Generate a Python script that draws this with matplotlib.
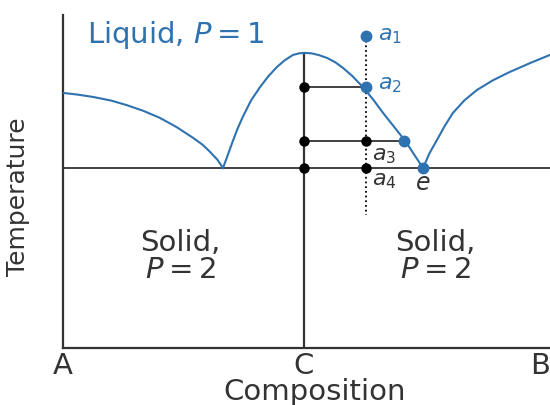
import numpy as np
import matplotlib
matplotlib.use('Agg')
import matplotlib.pyplot as plt
from matplotlib.transforms import ScaledTranslation

plt.rcParams['font.family'] = ['DejaVu Sans']
plt.rcParams['mathtext.fontset'] = 'dejavusans'

BLUE = '#2f72b0'
DARK = '#333333'

# liquidus branches (composition fraction of B, temperature in arbitrary units)
left_x = [0.0, 0.030, 0.062, 0.100, 0.133, 0.167, 0.201, 0.235, 0.270, 0.290, 0.305, 0.320, 0.332]
left_t = [76.6, 76.1, 75.4, 74.3, 72.9, 71.2, 69.1, 66.4, 63.1, 61.0, 58.9, 56.6, 54.05]

mid_x = [0.332, 0.342, 0.352, 0.362, 0.373, 0.390, 0.409, 0.426, 0.444, 0.460, 0.477,
         0.490, 0.502, 0.515, 0.530, 0.548, 0.565, 0.581, 0.600, 0.622, 0.643, 0.664,
         0.687, 0.710, 0.728, 0.747]
mid_t = [54.05, 58.0, 62.0, 65.8, 69.4, 74.3, 78.4, 81.6, 84.4, 86.4, 88.0,
         88.5, 88.6, 88.5, 88.0, 87.1, 85.8, 84.1, 81.7, 78.4, 74.7, 70.6,
         66.4, 62.2, 58.2, 54.05]

right_x = [0.747, 0.760, 0.776, 0.792, 0.809, 0.833, 0.859, 0.892, 0.927, 0.968, 1.010]
right_t = [54.05, 58.4, 62.5, 66.7, 70.6, 74.4, 77.5, 80.4, 82.9, 85.5, 88.0]

# compound C, eutectic and the cooling isopleth a1..a4
x_C = 0.5
t_C = 88.6
t_eut = 54.05
x_e = 0.747
x_iso = 0.629
iso_t = [93.7, 78.4, 62.2, 54.05]   # a1, a2, a3, a4
x_a3 = 0.708
t_iso_end = 40.0

tick_pos = [0.0, 0.5, 1.0]
tick_labels = ['A', 'C', 'B']

fig = plt.figure(figsize=(5.5, 4.05), dpi=100)
ax = fig.add_axes([63 / 550, 57 / 405, 487 / 550, 333 / 405])
ax.set_xlim(0, 487 / 482)
ax.set_ylim(0, 100)

for s in ['top', 'right']:
    ax.spines[s].set_visible(False)
for s in ['left', 'bottom']:
    ax.spines[s].set_color(DARK)
    ax.spines[s].set_linewidth(1.6)

# liquidus curves
for xs, ts in [(left_x, left_t), (mid_x, mid_t), (right_x, right_t)]:
    ax.plot(xs, ts, color=BLUE, lw=1.5, solid_joinstyle='round', zorder=3)

# eutectic line and compound line
ax.axhline(t_eut, color=DARK, lw=1.3, zorder=2)
ax.plot([x_C, x_C], [0, t_C], color=DARK, lw=1.6, zorder=2)

# tie lines
ax.plot([x_C, x_iso], [iso_t[1], iso_t[1]], color=DARK, lw=1.3, zorder=2)
ax.plot([x_C, x_a3], [iso_t[2], iso_t[2]], color=DARK, lw=1.3, zorder=2)

# isopleth
ax.plot([x_iso, x_iso], [iso_t[0], t_iso_end], color='black', lw=1.3,
        linestyle=(0, (1, 1.6)), zorder=2)

# points
ax.plot([x_C, x_C, x_C, x_iso, x_iso], [iso_t[1], iso_t[2], t_eut, iso_t[2], t_eut],
        'o', color='black', ms=6.5, zorder=4)
ax.plot([x_iso, x_iso, x_a3, x_e], [iso_t[0], iso_t[1], iso_t[2], t_eut],
        'o', color=BLUE, ms=7.5, zorder=5)

# labels
lab = dict(color=BLUE, fontsize=16)
ax.text(x_iso + 0.024, iso_t[0], '$a_1$', va='center', ha='left', **lab)
ax.text(x_iso + 0.024, iso_t[1] + 0.5, '$a_2$', va='center', ha='left', **lab)
ax.text(x_iso + 0.012, iso_t[2] - 4.5, '$a_3$', va='center', ha='left', color=DARK, fontsize=16)
ax.text(x_iso + 0.012, t_eut - 4.0, '$a_4$', va='center', ha='left', color=DARK, fontsize=16)
ax.text(x_e, t_eut - 4.5, '$e$', va='center', ha='center', color=DARK, fontsize=17)

ax.text(0.05, 91.6, 'Liquid, $P = 1$', color=BLUE, fontsize=21,
        ha='left', va='baseline')
ax.text(0.243, 27.6, 'Solid,\n$P = 2$', color=DARK, fontsize=21,
        ha='center', va='center', linespacing=0.95)
ax.text(0.772, 27.6, 'Solid,\n$P = 2$', color=DARK, fontsize=21,
        ha='center', va='center', linespacing=0.95)

ax.set_xticks(tick_pos)
ax.set_xticklabels(tick_labels, fontsize=21, color=DARK)
ax.tick_params(axis='x', length=0, pad=3)
ax.set_yticks([])
# keep the B label inside the figure edge
b_lab = ax.get_xticklabels()[-1]
b_lab.set_horizontalalignment('right')
b_lab.set_transform(b_lab.get_transform() + ScaledTranslation(4 / 72, 0, fig.dpi_scale_trans))

ax.set_xlabel('Composition', fontsize=21, color=DARK, va='top')
ax.xaxis.set_label_coords(0.517, -0.09)
ax.set_ylabel('Temperature', fontsize=18, color=DARK)
ax.yaxis.set_label_coords(-0.068, 0.453)

fig.savefig('out.png', dpi=100)
